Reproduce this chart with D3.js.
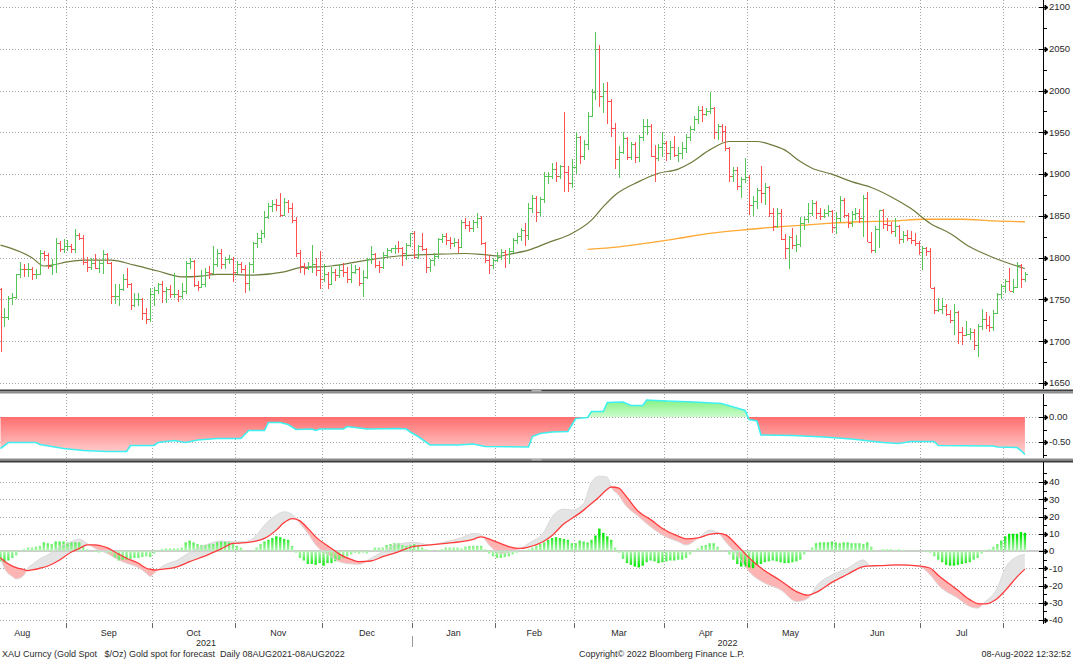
<!DOCTYPE html>
<html>
<head>
<meta charset="utf-8">
<title>XAU Curncy (Gold Spot $/Oz)</title>
<script src="https://d3js.org/d3.v7.min.js"></script>
<style>
    body { margin: 0; background: #fff; }
    text { font-family: "Liberation Sans", Arial, sans-serif; fill: #2a2a2a; }
    .grid { stroke: #a4a4a4; stroke-width: 1; stroke-dasharray: 1,2; fill: none; shape-rendering: crispEdges; }
    .axis-line { stroke: #000; stroke-width: 1; shape-rendering: crispEdges; }
    .tick-label { font-size: 9.5px; }
    .month-label { font-size: 9px; }
    .footer { font-size: 9px; white-space: pre; }
</style>
</head>
<body>
<div id="chart"></div>
<script>
// daily bars, 09 Aug 2021 .. 08 Aug 2022 (one row per month)
const openP = [
    1763,1729,1729,1752,1753,1780,1787,1786,1787,1781,1781,1805,1803,1790,1793,1818,1810,
    1814,1814,1810,1827,1823,1795,1789,1794,1788,1794,1804,1794,1754,1754,1763,1774,1768,1743,1750,1751,1734,1726,
    1757,1761,1769,1760,1762,1756,1757,1754,1760,1794,1796,1767,1765,1769,1783,1782,1793,1806,1793,1798,1799,
    1783,1793,1787,1770,1792,1818,1824,1830,1849,1862,1864,1863,1851,1867,1860,1845,1805,1790,1788,1790,1793,1785,
    1775,1781,1769,1783,1779,1785,1783,1775,1783,1787,1770,1777,1799,1804,1791,1789,1803,1809,1811,1812,1811,1805,1815,
    1829,1801,1814,1810,1789,1797,1802,1822,1826,1821,1817,1819,1813,1843,1839,1835,1843,1848,1818,1797,1791,
    1797,1801,1807,1804,1808,1821,1826,1833,1827,1859,1871,1855,1870,1898,1898,1906,1898,1910,1903,1889,
    1909,1944,1922,1936,1970,1998,2050,1993,2000,1988,1955,1918,1926,1943,1921,1936,1921,1944,1958,1958,1922,1919,1933,
    1937,1925,1933,1923,1925,1931,1945,1954,1966,1977,1972,1975,1979,1950,1958,1951,1931,1898,1905,1886,1894,
    1897,1863,1868,1881,1877,1884,1854,1838,1853,1822,1811,1825,1815,1816,1842,1846,1853,1866,1853,1850,1853,1856,
    1837,1848,1869,1851,1841,1852,1853,1848,1871,1819,1809,1834,1857,1840,1839,1832,1838,1822,1827,1823,1821,1817,
    1807,1811,1808,1764,1737,1739,1742,1733,1725,1735,1711,1707,1709,1711,1696,1718,1727,1719,1717,1734,1756,
    1766,1772,1760,1765,1791,1775
];
const highP = [
    1764,1740,1754,1758,1781,1795,1792,1794,1789,1786,1809,1808,1805,1798,1823,1820,1822,
    1821,1816,1834,1830,1827,1801,1800,1804,1796,1809,1806,1795,1768,1768,1780,1788,1770,1758,1758,1752,1740,1764,
    1765,1770,1772,1765,1767,1782,1761,1770,1796,1800,1797,1772,1785,1788,1790,1814,1810,1810,1801,1803,1801,
    1796,1795,1791,1795,1819,1829,1833,1856,1865,1869,1870,1877,1871,1869,1866,1849,1809,1794,1795,1815,1800,1808,
    1792,1783,1789,1787,1793,1794,1789,1792,1791,1789,1785,1800,1814,1806,1796,1807,1812,1812,1815,1820,1813,1817,1830,
    1832,1815,1829,1812,1798,1805,1823,1828,1829,1825,1823,1822,1845,1848,1844,1845,1853,1850,1819,1803,1800,
    1807,1810,1809,1812,1823,1829,1836,1842,1865,1875,1874,1873,1902,1902,1913,1914,1911,1974,1910,1918,
    1950,1946,1941,1974,2002,2070,2054,2009,2010,1990,1961,1934,1950,1945,1939,1939,1947,1966,1966,1960,1935,1936,1950,
    1940,1940,1946,1932,1938,1948,1958,1970,1981,1982,1979,1998,1980,1960,1960,1958,1933,1908,1908,1896,1919,
    1899,1874,1883,1910,1889,1886,1860,1859,1858,1828,1826,1835,1827,1849,1849,1865,1869,1868,1859,1858,1863,1857,
    1855,1874,1871,1854,1856,1860,1858,1875,1878,1831,1838,1857,1858,1847,1843,1847,1839,1832,1833,1832,1829,1820,
    1814,1813,1812,1765,1752,1752,1745,1737,1745,1736,1717,1724,1716,1715,1721,1739,1735,1730,1737,1758,1768,
    1775,1788,1774,1795,1792,1783
];
const lowP = [
    1687,1717,1725,1743,1750,1776,1777,1777,1773,1775,1779,1796,1786,1779,1782,1807,1806,
    1808,1805,1805,1821,1791,1783,1785,1787,1782,1780,1792,1745,1745,1742,1760,1764,1737,1741,1742,1725,1721,1723,
    1742,1756,1746,1746,1752,1752,1747,1750,1756,1786,1765,1760,1764,1765,1775,1780,1789,1787,1786,1792,1771,
    1780,1782,1758,1760,1782,1811,1818,1823,1846,1855,1856,1849,1850,1853,1842,1801,1782,1779,1785,1782,1778,1762,
    1771,1762,1767,1772,1776,1777,1770,1770,1781,1766,1753,1774,1793,1788,1782,1786,1800,1805,1804,1806,1790,1797,1813,
    1799,1798,1808,1782,1783,1790,1799,1817,1815,1810,1813,1806,1811,1834,1831,1831,1836,1815,1794,1780,1786,
    1795,1797,1788,1792,1805,1816,1820,1814,1821,1853,1843,1850,1866,1888,1894,1890,1894,1879,1878,1883,
    1900,1912,1917,1929,1968,1989,1980,1973,1960,1944,1906,1895,1924,1917,1917,1913,1914,1940,1947,1921,1890,1916,1921,
    1916,1917,1920,1915,1918,1925,1940,1951,1960,1962,1970,1972,1942,1941,1939,1928,1891,1890,1881,1872,1889,
    1851,1850,1858,1866,1863,1849,1832,1836,1821,1799,1787,1810,1807,1813,1833,1842,1850,1846,1845,1847,1850,1829,
    1828,1843,1847,1836,1837,1845,1841,1825,1819,1805,1806,1812,1834,1832,1828,1825,1816,1817,1820,1816,1814,1803,
    1785,1802,1764,1732,1735,1733,1730,1722,1707,1697,1696,1706,1701,1689,1681,1713,1715,1711,1712,1733,1750,
    1758,1760,1758,1764,1764,1771
];
const closeP = [
    1729,1729,1752,1753,1780,1787,1786,1787,1781,1781,1805,1803,1790,1793,1818,1810,1814,
    1814,1810,1827,1823,1795,1789,1794,1788,1794,1804,1794,1754,1754,1763,1774,1768,1743,1750,1751,1734,1726,1757,
    1761,1769,1760,1762,1756,1757,1754,1760,1794,1796,1767,1765,1769,1783,1782,1793,1806,1793,1798,1799,1783,
    1793,1787,1770,1792,1818,1824,1830,1849,1862,1864,1863,1851,1867,1860,1845,1805,1790,1788,1790,1793,1785,1775,
    1781,1769,1783,1779,1785,1783,1775,1783,1787,1770,1777,1799,1804,1791,1789,1803,1809,1811,1812,1811,1805,1815,1829,
    1801,1814,1810,1789,1797,1802,1822,1826,1821,1817,1819,1813,1843,1839,1835,1843,1848,1818,1797,1791,1797,
    1801,1807,1804,1808,1821,1826,1833,1827,1859,1871,1855,1870,1898,1898,1906,1898,1910,1903,1889,1909,
    1944,1922,1936,1970,1998,2050,1993,2000,1988,1955,1918,1926,1943,1921,1936,1921,1944,1958,1958,1922,1919,1933,1937,
    1925,1933,1923,1925,1931,1945,1954,1966,1977,1972,1975,1979,1950,1958,1951,1931,1898,1905,1886,1894,1897,
    1863,1868,1881,1877,1884,1854,1838,1853,1822,1811,1825,1815,1816,1842,1846,1853,1866,1853,1850,1853,1856,1837,
    1848,1869,1851,1841,1852,1853,1848,1871,1819,1809,1834,1857,1840,1839,1832,1838,1822,1827,1823,1821,1817,1807,
    1811,1808,1764,1737,1739,1742,1733,1725,1735,1711,1707,1709,1711,1696,1718,1727,1719,1717,1734,1756,1766,
    1772,1760,1765,1791,1775,1780
];

// moving averages (bar index, price)
const ma50Idx = [0,5,8,11,13,17,21,28,34,40,46,51,55,59,63,72,76,84,93,101,110,118,122,127,129,134,139,145,150,153,
    156,162,167,172,175,180,185,192,195,199,203,206,211,216,221,226,231,236,241,246,251,256,260];
const ma50Val = [1815,1807,1800,1790,1791,1795,1797,1797,1791,1784,1777,1778,1780,1780,1779,1783,1788,1790,1797,1802,
    1804,1805,1804,1802,1804,1809,1818,1829,1845,1861,1875,1891,1901,1906,1913,1929,1939,1939,1936,1929,
    1915,1907,1900,1891,1884,1873,1859,1841,1829,1813,1802,1793,1787];
const ma200Idx = [149,157,165,172,180,188,195,201,210,218,227,234,244,252,260];
const ma200Val = [1810,1813,1818,1823,1829,1833,1836,1838,1841,1843,1844,1846,1846,1844,1843];

// middle study
const oscIdx = [0,2,9,10,13,16,21,27,32,33,39,40,44,47,50,55,61,63,67,68,71,73,75,79,80,81,87,88,90,93,
    101,103,104,106,109,116,120,123,134,135,137,140,144,146,149,150,153,154,158,160,163,164,169,176,183,186,189,190,192,193,
    201,209,216,224,228,231,237,238,252,253,258,259,260];
const oscVal = [-0.63,-0.51,-0.51,-0.55,-0.59,-0.63,-0.67,-0.69,-0.69,-0.57,-0.57,-0.51,-0.47,-0.51,-0.46,-0.43,-0.43,-0.27,-0.27,-0.11,
    -0.11,-0.15,-0.25,-0.24,-0.27,-0.24,-0.24,-0.19,-0.21,-0.24,-0.23,-0.24,-0.30,-0.39,-0.56,-0.56,-0.54,-0.59,-0.60,-0.39,
    -0.33,-0.30,-0.29,-0.03,-0.01,0.11,0.11,0.29,0.30,0.23,0.23,0.34,0.32,0.30,0.27,0.20,0.13,-0.05,-0.08,-0.36,
    -0.37,-0.40,-0.44,-0.51,-0.53,-0.49,-0.49,-0.57,-0.58,-0.60,-0.61,-0.67,-0.75];

// lower study: two lines sampled at the same bars, histogram per bar
const studyIdx = [0,1,3,4,6,7,8,10,12,15,18,20,22,24,27,30,32,35,37,38,39,41,45,48,52,56,59,62,65,67,
    70,72,74,76,78,80,84,86,89,91,94,97,100,105,109,113,117,120,122,123,125,127,129,132,134,138,140,143,145,148,
    150,152,154,155,157,158,162,165,168,172,174,177,180,182,184,187,190,194,198,202,205,207,211,215,219,221,223,228,233,236,
    238,243,246,248,250,253,255,258,260];
const macdVal = [-4.2,-10,-14.8,-16.2,-13.9,-9.6,-8,-4.5,-2.3,2.5,5.4,6.9,4.4,1.5,-1.3,-5.2,-7.1,-9.6,-12.9,-14.8,
    -12.9,-9,-5.2,-0.8,3.5,5.8,5.4,5.4,9.2,15,20.8,22.7,21.2,16,10.2,3.5,-3.3,-6.2,-7.5,-7.7,
    -4.2,-0.4,3.5,5,3.5,5.4,7.7,10.2,9.6,6.4,1.2,-1.3,-0.8,1.5,4.4,11.2,19.8,24.3,23.7,27.5,
    39.9,43.4,42.8,37.1,32,28.4,19.8,14,9.2,5.4,3.5,7.3,12.1,10.8,5.4,-2.3,-12,-18.7,-22.5,-29.3,
    -27.4,-20.6,-13.9,-10,-5.2,-9,-8.5,-8.1,-9,-13.9,-19.7,-27.4,-32.2,-33.1,-29.3,-21.6,-10,-3.3,-2];
const signalVal = [-3.9,-6,-8.8,-9.6,-10.8,-11.4,-11,-10,-8.7,-5.2,-0.6,1.5,3.5,3.6,1.9,-1.8,-4.2,-7.1,-10,-10.6,
    -11,-10.6,-9,-6.2,-2.8,1.2,4.4,4.8,5.8,7.3,12.1,16.5,18.8,17.5,13.1,8.2,1.5,-1.8,-4.9,-6.2,
    -5.8,-3.3,-1.2,2.7,3.5,4.4,5.4,6.8,8.2,7.8,6.0,4.3,2.6,1.5,2.3,5.8,9.0,15.8,18.8,23.7,
    27.5,31.5,35.8,37.1,36.4,34,22.7,18.2,13,8.6,7,7.6,9.6,10.2,9.4,3.2,-4,-11.5,-17.2,-23.5,
    -25.6,-24,-18.2,-13.5,-9,-8.6,-8.5,-8.1,-8.6,-10,-14,-22.8,-28.2,-30.5,-30.6,-27.5,-23,-15,-10.5];
const histVal = [
    -6,-6.5,-5.5,-4,-2.5,0.5,1,2,2,2.5, 3,5,4.5,4,5.5,5.5,5.5,5,5,5,
    5,3,1,0,-0.5,-1,-0.5,-1,-1.5,-4, -5.5,-5,-5,-4.5,-4,-4,-3.5,-3,-3.5,-1.5,
    0.5,1,1.5,1.5,1.5,1.5,2,5,6,5, 4,3.5,3.5,4,4,5,5.5,5.5,5,4,
    3,2,0.5,0,0.5,2,4,5.5,6.5,7.5, 8.5,8,7,6.5,3,-1,-4,-5.5,-7.5,-7.5,
    -8,-7,-8.5,-7,-7,-6,-5,-4,-3,-2, -1,-1.5,-1,-1.5,0.5,2,2,2,3.5,4,
    4.5,4.5,3.5,3,3.5,4,3,2,1,0.5, 0,0.5,1,2,2,2,2,1.5,2.5,3,
    3,3,3,1,-1.5,-3,-4,-4,-3.5,-3, -2,-1,0,0.5,1,2,3,4,5,6.5,
    7.5,8,7.5,7,6.5,4.5,4.5,6,5.5,5, 6.5,9,13,10.5,8.5,6.5,2,-1,-4.5,-7,
    -8,-9,-9.5,-8.5,-6.5,-5.5,-6,-7,-6.5,-6, -5.5,-5.5,-5,-5,-4,-2,-0.5,1.5,3,3.5,
    4.5,4.5,2.5,0.5,0,-2,-5,-7.5,-9,-9, -9.5,-10,-8,-7.5,-6.5,-6,-5.5,-6,-6.5,-7,
    -7,-6.5,-6,-5,-2,0,2,4.5,5,5, 5,5.5,5,4.5,5,5,4.5,4.5,4.5,4,
    5,2.5,0.5,0,1,1,1,0.5,1,0.5, 0.3,0.2,0.2,0.3,-0.3,-0.5,-1,-3,-5,-6.5,
    -8,-8.5,-8.5,-8,-7.5,-7,-6.5,-5,-4,-1.5, 0.5,1,2.5,4,6,8.5,10,10,10,11,
    10.5
];

const priceTicks = d3.range(1650, 2101, 50);
const oscTicks = [0, -0.5];
const macdTicks = d3.range(-40, 41, 10);

const width = 1073, height = 660, axisX = 1043;
const panels = {
    price: { top: 0, bottom: 389 },
    osc: { top: 394, bottom: 458 },
    macd: { top: 462, bottom: 624 }
};

const weekday = d => d.getDay() > 0 && d.getDay() < 6;
const days = d3.timeDay.range(new Date(2021, 7, 9), new Date(2022, 7, 9)).filter(weekday);
const n = days.length;

const x = d3.scaleLinear().domain([0, n - 1]).range([0.5, 0.5 + 3.94 * (n - 1)]);
const yPrice = d3.scaleLinear().domain([1650, 2100]).range([383, 7]);
const yOsc = d3.scaleLinear().domain([-0.5, 0]).range([442, 417]);
const yMacd = d3.scaleLinear().domain([-40, 40]).range([620, 482]);

const svg = d3.select("#chart").append("svg")
    .attr("width", width)
    .attr("height", height);
const defs = svg.append("defs");

// clip per panel
Object.entries(panels).forEach(([k, p]) => {
    defs.append("clipPath").attr("id", "clip-" + k)
        .append("rect").attr("x", 0).attr("y", p.top).attr("width", axisX).attr("height", p.bottom - p.top);
});

function vGradient(id, y1, y2, c1, c2) {
    const g = defs.append("linearGradient").attr("id", id)
        .attr("gradientUnits", "userSpaceOnUse")
        .attr("x1", 0).attr("x2", 0).attr("y1", y1).attr("y2", y2);
    g.append("stop").attr("offset", 0).attr("stop-color", c1);
    g.append("stop").attr("offset", 1).attr("stop-color", c2);
}
vGradient("oscRed", yOsc(0), yOsc(-0.78), "#ff6e6e", "#ffd6d6");
vGradient("oscGreen", yOsc(0.4), yOsc(0), "#78f078", "#ccfccc");
vGradient("histPos", yMacd(0), yMacd(9), "#b4f5b4", "#00e800");
vGradient("histNeg", yMacd(0), yMacd(-9), "#b4f5b4", "#00e800");

// month boundaries
const monthStarts = d3.range(1, n).filter(i => days[i].getMonth() !== days[i - 1].getMonth());
const boundaryX = i => x(i - 0.5);

// gridlines
Object.entries(panels).forEach(([k, p]) => {
    svg.append("g").selectAll("line")
        .data(monthStarts)
        .join("line")
        .attr("class", "grid")
        .attr("x1", d => Math.round(boundaryX(d)) + 0.5)
        .attr("x2", d => Math.round(boundaryX(d)) + 0.5)
        .attr("y1", p.top)
        .attr("y2", p.bottom);
});
function hGrid(values, scale) {
    svg.append("g").selectAll("line")
        .data(values)
        .join("line")
        .attr("class", "grid")
        .attr("x1", 0).attr("x2", axisX)
        .attr("y1", d => Math.round(scale(d)) + 0.5)
        .attr("y2", d => Math.round(scale(d)) + 0.5);
}
hGrid(priceTicks, yPrice);
hGrid(oscTicks, yOsc);
hGrid(macdTicks.filter(d => d !== 0), yMacd);

// ---- price panel
const gPrice = svg.append("g").attr("clip-path", "url(#clip-price)");

const maLine = (idx, val) => d3.line()
    .x((d, i) => x(idx[i]))
    .y((d, i) => yPrice(val[i]))
    .curve(d3.curveMonotoneX)(val);

gPrice.append("path")
    .attr("d", maLine(ma200Idx, ma200Val))
    .attr("fill", "none")
    .attr("stroke", "#ffa833")
    .attr("stroke-width", 1.3);

gPrice.append("path")
    .attr("d", maLine(ma50Idx, ma50Val))
    .attr("fill", "none")
    .attr("stroke", "#6c7c3c")
    .attr("stroke-width", 1.2);

const px = i => Math.round(x(i)) + 0.5;
const bar = gPrice.selectAll("g.bar")
    .data(d3.range(n))
    .join("g")
    .attr("class", "bar")
    .attr("stroke", i => closeP[i] >= openP[i] ? "#55c655" : "#ff5050")
    .attr("stroke-width", 1)
    .attr("shape-rendering", "crispEdges");

bar.append("line")
    .attr("x1", px).attr("x2", px)
    .attr("y1", i => yPrice(highP[i]))
    .attr("y2", i => yPrice(lowP[i]));
bar.append("line")
    .attr("x1", i => px(i) - 2).attr("x2", px)
    .attr("y1", i => Math.round(yPrice(openP[i])) + 0.5)
    .attr("y2", i => Math.round(yPrice(openP[i])) + 0.5);
bar.append("line")
    .attr("x1", px).attr("x2", i => px(i) + 2)
    .attr("y1", i => Math.round(yPrice(closeP[i])) + 0.5)
    .attr("y2", i => Math.round(yPrice(closeP[i])) + 0.5);

// ---- middle panel
const gOsc = svg.append("g").attr("clip-path", "url(#clip-osc)");
defs.append("clipPath").attr("id", "osc-above")
    .append("rect").attr("x", 0).attr("y", panels.osc.top).attr("width", axisX).attr("height", yOsc(0) - panels.osc.top);
defs.append("clipPath").attr("id", "osc-below")
    .append("rect").attr("x", 0).attr("y", yOsc(0)).attr("width", axisX).attr("height", panels.osc.bottom - yOsc(0));

const oscArea = d3.area()
    .x((d, i) => x(oscIdx[i]))
    .y0(yOsc(0))
    .y1(d => yOsc(d));
const oscLine = d3.line()
    .x((d, i) => x(oscIdx[i]))
    .y(d => yOsc(d));

gOsc.append("path").attr("d", oscArea(oscVal)).attr("fill", "url(#oscRed)").attr("clip-path", "url(#osc-below)");
gOsc.append("path").attr("d", oscArea(oscVal)).attr("fill", "url(#oscGreen)").attr("clip-path", "url(#osc-above)");
gOsc.append("path")
    .attr("d", oscLine(oscVal))
    .attr("fill", "none")
    .attr("stroke", "#3ef0f0")
    .attr("stroke-width", 1.6);

// ---- lower panel
const gMacd = svg.append("g").attr("clip-path", "url(#clip-macd)");
const study = studyIdx.map((d, i) => ({ i: d, m: macdVal[i], s: signalVal[i] }));
const curve = d3.curveMonotoneX;

defs.append("clipPath").attr("id", "sig-above")
    .append("path")
    .attr("d", d3.area().x(d => x(d.i)).y0(panels.macd.top).y1(d => yMacd(d.s)).curve(curve)(study));
defs.append("clipPath").attr("id", "sig-below")
    .append("path")
    .attr("d", d3.area().x(d => x(d.i)).y0(d => yMacd(d.s)).y1(panels.macd.bottom).curve(curve)(study));

const between = d3.area().x(d => x(d.i)).y0(d => yMacd(d.s)).y1(d => yMacd(d.m)).curve(curve);
gMacd.append("path").attr("d", between(study)).attr("fill", "#e4e4e4").attr("clip-path", "url(#sig-above)");
gMacd.append("path").attr("d", between(study)).attr("fill", "#ffb4b4").attr("clip-path", "url(#sig-below)");

gMacd.append("line")
    .attr("x1", 0).attr("x2", axisX)
    .attr("y1", yMacd(0)).attr("y2", yMacd(0))
    .attr("stroke", "#cdcdcd")
    .attr("stroke-width", 2);

gMacd.selectAll("rect.hist")
    .data(histVal)
    .join("rect")
    .attr("class", "hist")
    .attr("x", (d, i) => x(i) - 1.2)
    .attr("width", 2.4)
    .attr("y", d => d >= 0 ? yMacd(d) : yMacd(0))
    .attr("height", d => Math.abs(yMacd(d) - yMacd(0)))
    .attr("fill", d => d >= 0 ? "url(#histPos)" : "url(#histNeg)");

gMacd.append("path")
    .attr("d", d3.line().x(d => x(d.i)).y(d => yMacd(d.m)).curve(curve)(study))
    .attr("fill", "none")
    .attr("stroke", "#dadada")
    .attr("stroke-width", 1);
gMacd.append("path")
    .attr("d", d3.line().x(d => x(d.i)).y(d => yMacd(d.s)).curve(curve)(study))
    .attr("fill", "none")
    .attr("stroke", "#ff3a3a")
    .attr("stroke-width", 1.3);

// ---- panel separators
[[panels.price.bottom, ["#3c3c3c", "#8c8c8c"]], [panels.osc.bottom, ["#8c8c8c", "#3c3c3c"]]].forEach(([y0, cols]) => {
    svg.append("rect").attr("x", 0).attr("y", y0 + 0.5).attr("width", width).attr("height", 2).attr("fill", cols[0]);
    svg.append("rect").attr("x", 0).attr("y", y0 + 2.5).attr("width", width).attr("height", 2).attr("fill", cols[1]);
    svg.append("rect").attr("x", width / 2 - 5).attr("y", y0 + 1).attr("width", 10).attr("height", 1.5).attr("fill", "#b4b4b4");
});

// ---- right axes
function rightAxis(p, scale, major, minor, fmt) {
    const g = svg.append("g");
    g.append("line").attr("class", "axis-line")
        .attr("x1", axisX + 0.5).attr("x2", axisX + 0.5)
        .attr("y1", p.top).attr("y2", p.bottom);
    g.selectAll("line.minor")
        .data(minor)
        .join("line")
        .attr("class", "minor")
        .attr("x1", axisX).attr("x2", axisX + 4)
        .attr("y1", d => Math.round(scale(d)) + 0.5)
        .attr("y2", d => Math.round(scale(d)) + 0.5)
        .attr("stroke", "#000");
    g.selectAll("path.major")
        .data(major)
        .join("path")
        .attr("class", "major")
        .attr("d", d => {
            const y = Math.round(scale(d)) + 0.5;
            return `M${axisX - 4},${y}H${axisX + 2}M${axisX + 2},${y - 2.5}L${axisX + 5},${y}L${axisX + 2},${y + 2.5}Z`;
        })
        .attr("stroke", "#000")
        .attr("stroke-width", 1)
        .attr("fill", "#000");
    g.selectAll("text")
        .data(major)
        .join("text")
        .attr("class", "tick-label")
        .attr("x", axisX + 6)
        .attr("y", d => scale(d))
        .attr("dy", "0.35em")
        .text(fmt);
}
rightAxis(panels.price, yPrice, priceTicks, d3.range(1675, 2100, 50), d => d);
rightAxis(panels.osc, yOsc, oscTicks, [0.25, -0.25, -0.75], d => d.toFixed(2));
rightAxis(panels.macd, yMacd, macdTicks, d3.range(-35, 50, 10), d => d);

// ---- bottom time axis
const axisY = panels.macd.bottom;
svg.append("g").selectAll("line")
    .data(monthStarts)
    .join("line")
    .attr("x1", d => Math.round(boundaryX(d)) + 0.5)
    .attr("x2", d => Math.round(boundaryX(d)) + 0.5)
    .attr("y1", axisY - 1)
    .attr("y2", axisY + 4)
    .attr("stroke", "#666")
    .attr("shape-rendering", "crispEdges");

const months = d3.timeMonth.range(d3.timeMonth.floor(days[0]), d3.timeMonth.offset(d3.timeMonth.floor(days[n - 1]), 1));
months.forEach(m => {
    const mDays = d3.timeDay.range(m, d3.timeMonth.offset(m, 1)).filter(weekday);
    const first = days.findIndex(d => d.getMonth() === m.getMonth() && d.getFullYear() === m.getFullYear());
    const before = mDays.filter(d => d < days[first]).length;
    const start = first - before;
    const cx = x(start - 0.5 + mDays.length / 2);
    if (cx < 8 || cx > axisX - 14) return;
    svg.append("text")
        .attr("class", "month-label")
        .attr("x", cx)
        .attr("y", 636)
        .attr("text-anchor", "middle")
        .text(d3.timeFormat("%b")(m));
});

const yearBreak = monthStarts.find(i => days[i].getFullYear() !== days[i - 1].getFullYear());
const yb = boundaryX(yearBreak);
[[0, yb, "2021"], [yb, axisX, "2022"]].forEach(([a, b, t]) => {
    svg.append("text")
        .attr("class", "month-label")
        .attr("x", (a + b) / 2)
        .attr("y", 645.5)
        .attr("text-anchor", "middle")
        .text(t);
});
svg.append("line")
    .attr("x1", Math.round(yb) + 0.5).attr("x2", Math.round(yb) + 0.5)
    .attr("y1", 636).attr("y2", 647)
    .attr("stroke", "#999");

// ---- footer
svg.append("text").attr("class", "footer")
    .attr("x", 2).attr("y", 657)
    .text("XAU Curncy (Gold Spot   $/Oz) Gold spot for forecast  Daily 08AUG2021-08AUG2022");
svg.append("text").attr("class", "footer")
    .attr("x", 579).attr("y", 657)
    .text("Copyright\u00a9 2022 Bloomberg Finance L.P.");
svg.append("text").attr("class", "footer")
    .attr("x", width - 2).attr("y", 657)
    .attr("text-anchor", "end")
    .text("08-Aug-2022 12:32:52");
</script>
</body>
</html>
